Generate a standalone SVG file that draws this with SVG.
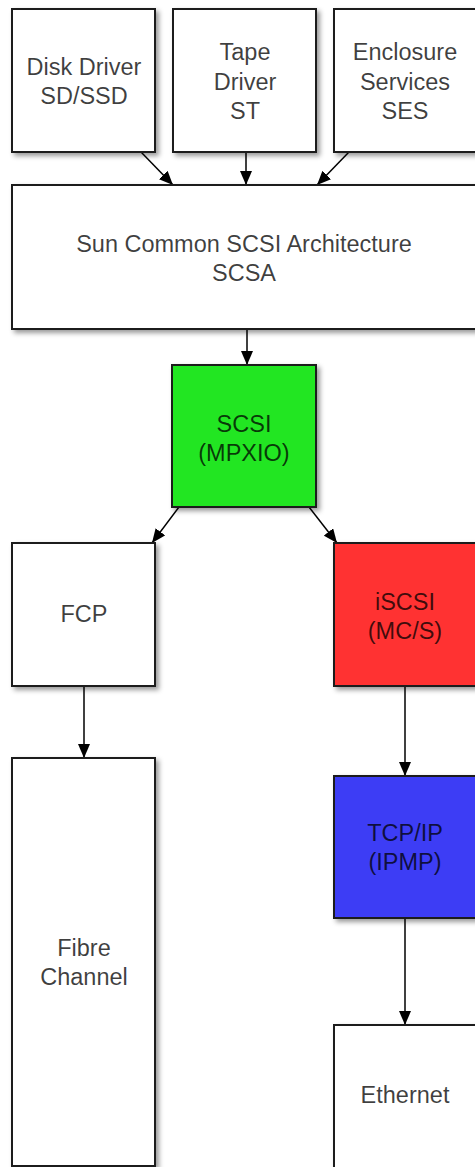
<svg xmlns="http://www.w3.org/2000/svg" width="475" height="1167" viewBox="0 0 475 1167">
<defs>
<filter id="sh" x="-10%" y="-10%" width="130%" height="130%">
<feDropShadow dx="3" dy="3" stdDeviation="2.5" flood-color="#000" flood-opacity="0.4"/>
</filter>
<marker id="ah" viewBox="0 0 14 12" refX="14" refY="6" markerWidth="14" markerHeight="12" markerUnits="userSpaceOnUse" orient="auto">
<path d="M0,0 L14,6 L0,12 z" fill="#000"/>
</marker>
</defs>
<style>
.box{stroke:#1a1a1a;stroke-width:2;filter:url(#sh)}
.w{fill:#fff}
.t{font-family:"Liberation Sans",Arial,sans-serif;font-size:23.5px;fill:#000;fill-opacity:0.75;text-anchor:middle}
.c{stroke:#000;stroke-width:1.5;fill:none;marker-end:url(#ah)}
</style>
<rect width="475" height="1167" fill="#fff"/>
<g id="connectors">
<line class="c" x1="141" y1="152" x2="173" y2="185"/>
<line class="c" x1="246" y1="152" x2="246" y2="185"/>
<line class="c" x1="349" y1="152" x2="317" y2="185"/>
<line class="c" x1="247" y1="329" x2="247" y2="365"/>
<line class="c" x1="179" y1="507" x2="152" y2="543"/>
<line class="c" x1="309" y1="507" x2="337" y2="543"/>
<line class="c" x1="84" y1="686" x2="84" y2="758"/>
<line class="c" x1="405" y1="686" x2="405" y2="776"/>
<line class="c" x1="405" y1="918" x2="405" y2="1025"/>
</g>
<g id="disk">
<rect class="box w" x="12" y="9" width="143" height="143"/>
<text class="t" x="84" y="75">Disk Driver</text>
<text class="t" x="84" y="104">SD/SSD</text>
</g>
<g id="tape">
<rect class="box w" x="173" y="9" width="143" height="143"/>
<text class="t" x="245" y="60">Tape</text>
<text class="t" x="245" y="90">Driver</text>
<text class="t" x="245" y="119">ST</text>
</g>
<g id="ses">
<rect class="box w" x="334" y="9" width="143" height="143"/>
<text class="t" x="405" y="60">Enclosure</text>
<text class="t" x="405" y="90">Services</text>
<text class="t" x="405" y="119">SES</text>
</g>
<g id="scsa">
<rect class="box w" x="12" y="185" width="466" height="144"/>
<text class="t" x="244" y="252">Sun Common SCSI Architecture</text>
<text class="t" x="244" y="281">SCSA</text>
</g>
<g id="scsi">
<rect class="box" fill="#22e622" x="172" y="365" width="144" height="142"/>
<text class="t" x="244" y="432">SCSI</text>
<text class="t" x="244" y="461">(MPXIO)</text>
</g>
<g id="fcp">
<rect class="box w" x="12" y="543" width="143" height="143"/>
<text class="t" x="84" y="622">FCP</text>
</g>
<g id="iscsi">
<rect class="box" fill="#ff3333" x="334" y="543" width="143" height="143"/>
<text class="t" x="405" y="610">iSCSI</text>
<text class="t" x="405" y="639">(MC/S)</text>
</g>
<g id="fibre">
<rect class="box w" x="12" y="758" width="143" height="408"/>
<text class="t" x="84" y="956">Fibre</text>
<text class="t" x="84" y="985">Channel</text>
</g>
<g id="tcp">
<rect class="box" fill="#3d3df5" x="334" y="776" width="143" height="142"/>
<text class="t" x="405" y="841">TCP/IP</text>
<text class="t" x="405" y="870">(IPMP)</text>
</g>
<g id="ethernet">
<rect class="box w" x="334" y="1025" width="143" height="160"/>
<text class="t" x="405" y="1103">Ethernet</text>
</g>
</svg>
